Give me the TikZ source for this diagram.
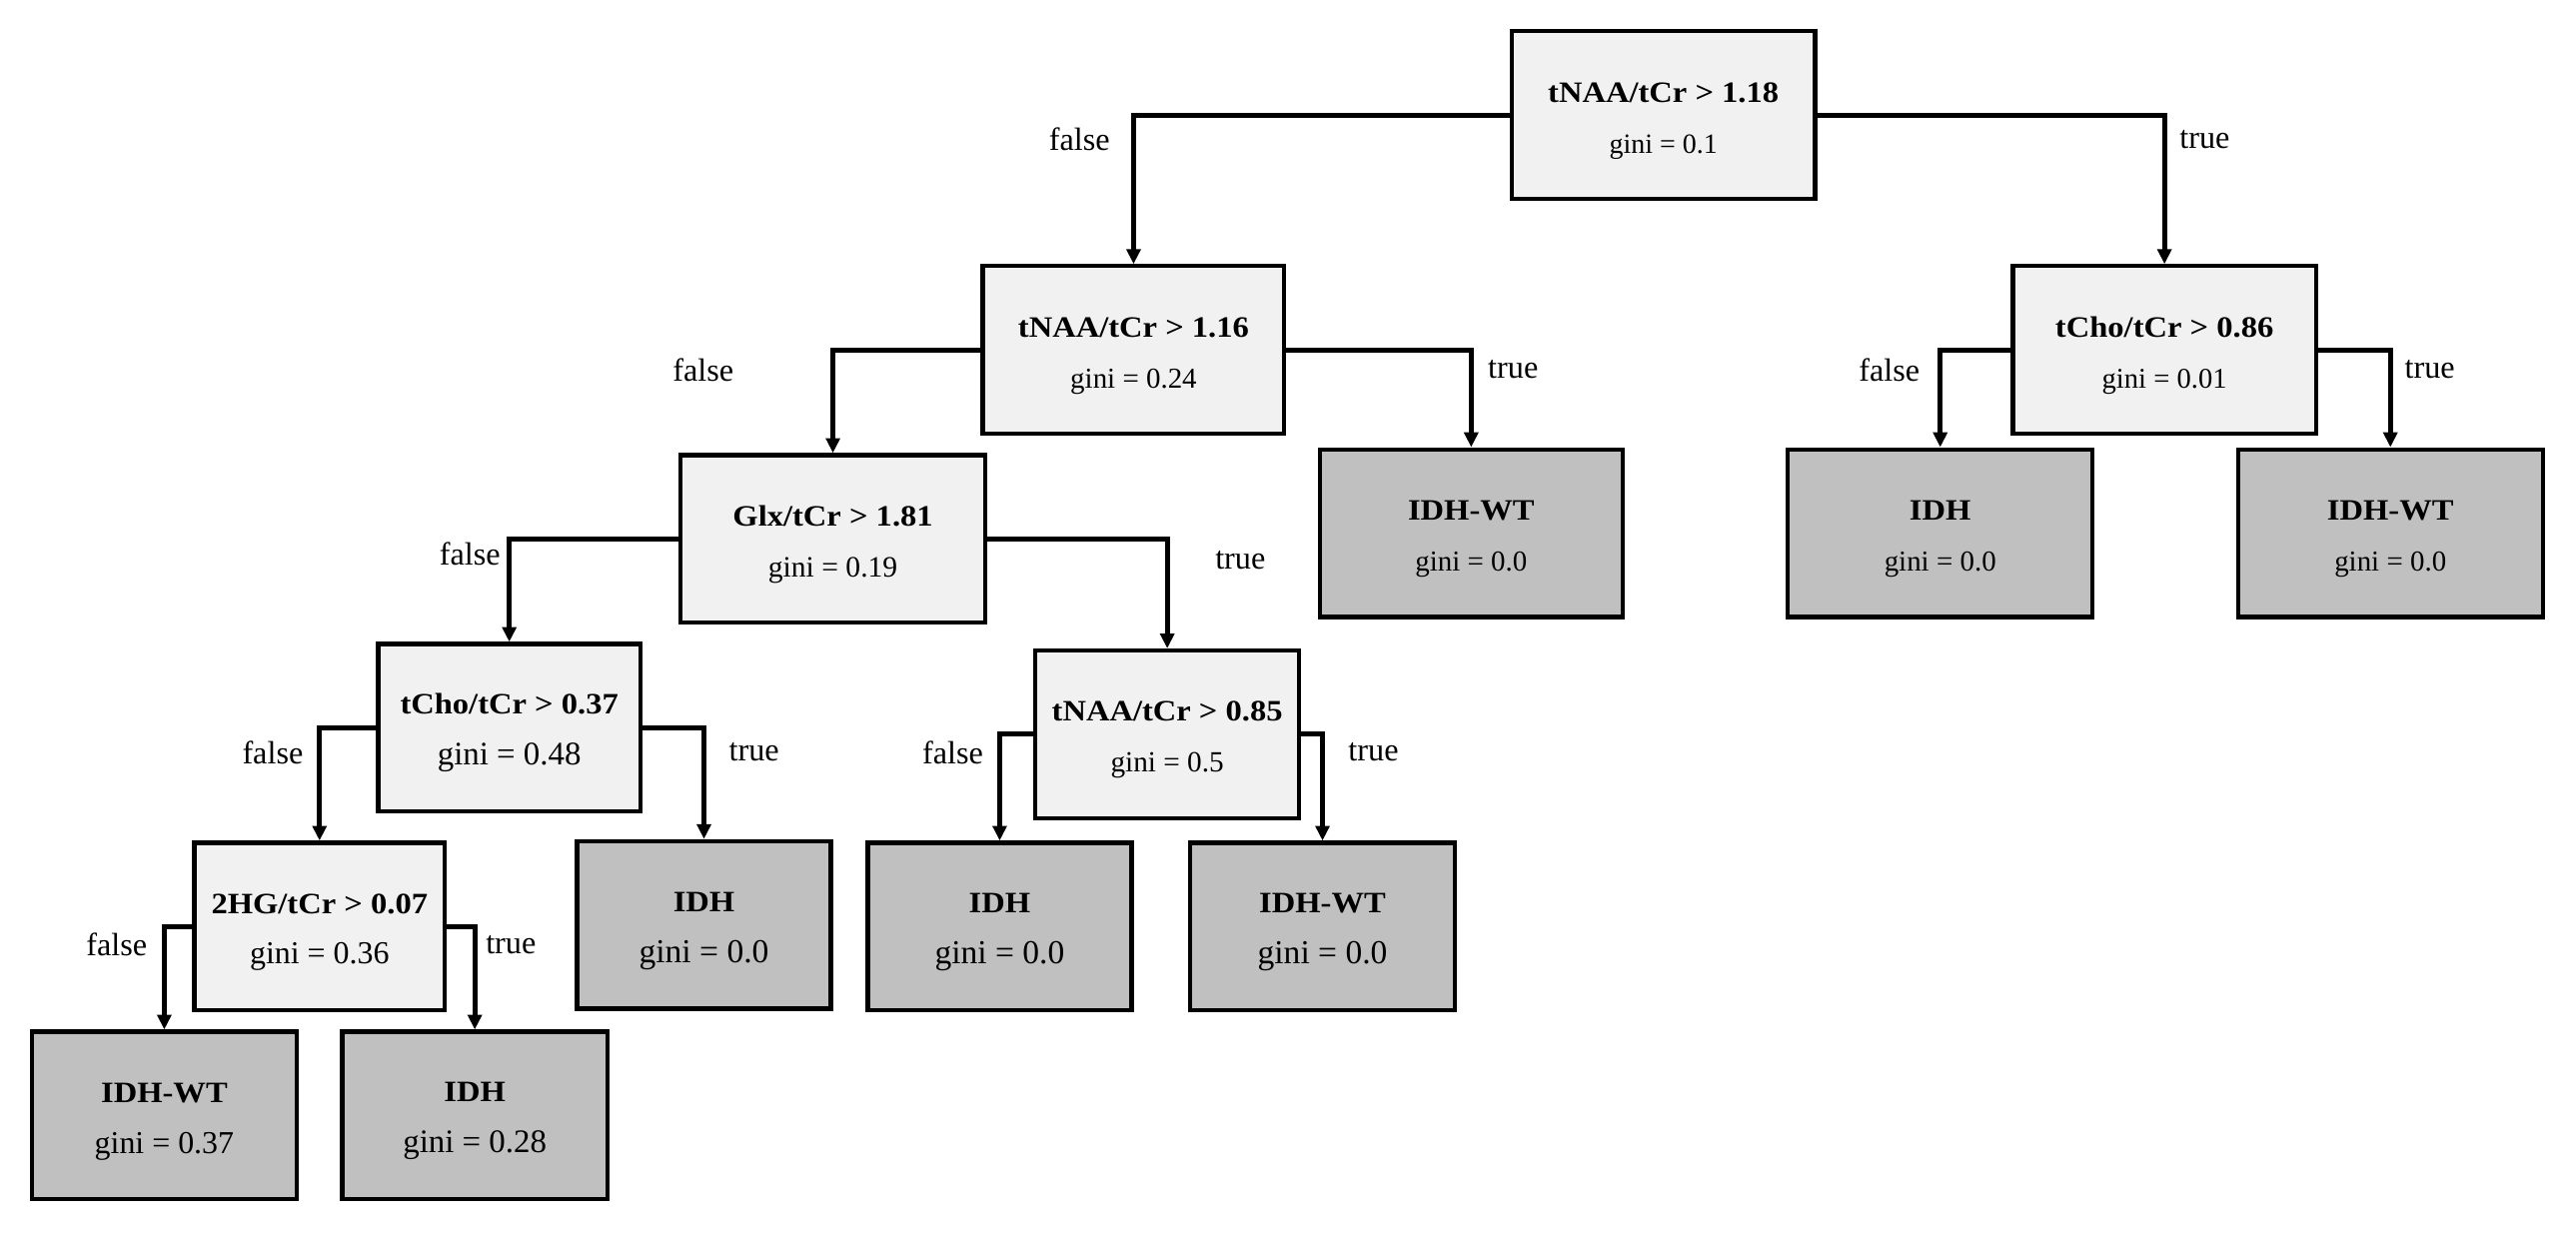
\documentclass[tikz,border=0pt]{standalone}
\usepackage{fontspec}
\setmainfont{Liberation Serif}
\newfontfamily\headfont{Liberation Serif}[FakeStretch=1.1]
\usetikzlibrary{arrows.meta}
\definecolor{innerfill}{HTML}{F1F1F1}
\definecolor{leaffill}{HTML}{C0C0C0}
\newcommand{\cond}[3]{{\headfont\bfseries\fontsize{9}{15.5}\selectfont\rule{0pt}{9.5pt}#1}\\{\fontsize{#2}{15.5}\selectfont gini = #3}}

\begin{document}
\begin{tikzpicture}[x=0.5pt,y=-0.5pt]
                        \tikzstyle{decision}=[draw,line width=1.3pt,fill=innerfill,align=center,minimum height=51pt,inner sep=0pt,font=\fontsize{9}{15.5}\selectfont]
                        \tikzstyle{leaf}=[decision,fill=leaffill]
                        \tikzstyle{branch}=[line width=1.5pt,-{Triangle[length=4.5pt,width=4.2pt]}]
                        \tikzstyle{lbl}=[font=\fontsize{9.8}{12}\selectfont,inner sep=0pt]
                        \useasboundingbox (0,0) rectangle (1568,750.6);
                        \node[decision,minimum width=92.25pt] (root) at (1012.5,70) {\cond{tNAA/tCr > 1.18}{8.5}{0.1}};
                        \node[decision,minimum width=91.75pt] (n1) at (690,213) {\cond{tNAA/tCr > 1.16}{8.8}{0.24}};
                        \node[decision,minimum width=92.25pt] (n2) at (1317.5,213) {\cond{tCho/tCr > 0.86}{8.7}{0.01}};
                        \node[leaf,minimum width=92.25pt] (l1) at (895.5,324.5) {\cond{IDH-WT}{8.8}{0.0}};
                        \node[leaf,minimum width=92.75pt] (l2) at (1181,324.5) {\cond{IDH}{8.8}{0.0}};
                        \node[leaf,minimum width=92.75pt] (l3) at (1455,324.5) {\cond{IDH-WT}{8.8}{0.0}};
                        \node[decision,minimum width=92.75pt] (n3) at (507,328) {\cond{Glx/tCr > 1.81}{9}{0.19}};
                        \node[decision,minimum width=79.75pt] (n4) at (310,443) {\cond{tCho/tCr > 0.37}{10}{0.48}};
                        \node[decision,minimum width=80.25pt] (n5) at (710.5,447) {\cond{tNAA/tCr > 0.85}{8.9}{0.5}};
                        \node[decision,minimum width=76.25pt] (n6) at (194.5,564) {\cond{2HG/tCr > 0.07}{9.7}{0.36}};
                        \node[leaf,minimum width=77.25pt] (l4) at (428.5,563) {\cond{IDH}{10.2}{0.0}};
                        \node[leaf,minimum width=80.25pt] (l5) at (608.5,564) {\cond{IDH}{10.2}{0.0}};
                        \node[leaf,minimum width=80.75pt] (l6) at (805,564) {\cond{IDH-WT}{10.2}{0.0}};
                        \node[leaf,minimum width=80.75pt] (l7) at (100,679) {\cond{IDH-WT}{9.7}{0.37}};
                        \node[leaf,minimum width=80.75pt] (l8) at (289,679) {\cond{IDH}{10}{0.28}};
                        \draw[branch] (root.west) -| (n1.north);
                        \draw[branch] (root.east) -| (n2.north);
                        \draw[branch] (n1.west) -| (n3.north);
                        \draw[branch] (n1.east) -| (l1.north);
                        \draw[branch] (n2.west) -| (l2.north);
                        \draw[branch] (n2.east) -| (l3.north);
                        \draw[branch] (n3.west) -| (n4.north);
                        \draw[branch] (n3.east) -| (n5.north);
                        \draw[branch] (n4.west) -| (n6.north);
                        \draw[branch] (n4.east) -| (l4.north);
                        \draw[branch] (n5.west) -| (l5.north);
                        \draw[branch] (n5.east) -| (l6.north);
                        \draw[branch] (n6.west) -| (l7.north);
                        \draw[branch] (n6.east) -| (l8.north);
                        \node[lbl] (f0) at (657,85) {false};
                        \node[lbl] (t0) at (1342,85) {true};
                        \node[lbl] (f1) at (428,225) {false};
                        \node[lbl] (t1) at (921,225) {true};
                        \node[lbl] (f2) at (1150,225) {false};
                        \node[lbl] (t2) at (1479,225) {true};
                        \node[lbl] (f3) at (286,337) {false};
                        \node[lbl] (t3) at (755,341) {true};
                        \node[lbl] (f4) at (166,458) {false};
                        \node[lbl] (t4) at (459,458) {true};
                        \node[lbl] (f5) at (580,458) {false};
                        \node[lbl] (t5) at (836,458) {true};
                        \node[lbl] (f6) at (71,575) {false};
                        \node[lbl] (t6) at (311,575) {true};
                    \end{tikzpicture}
\end{document}
